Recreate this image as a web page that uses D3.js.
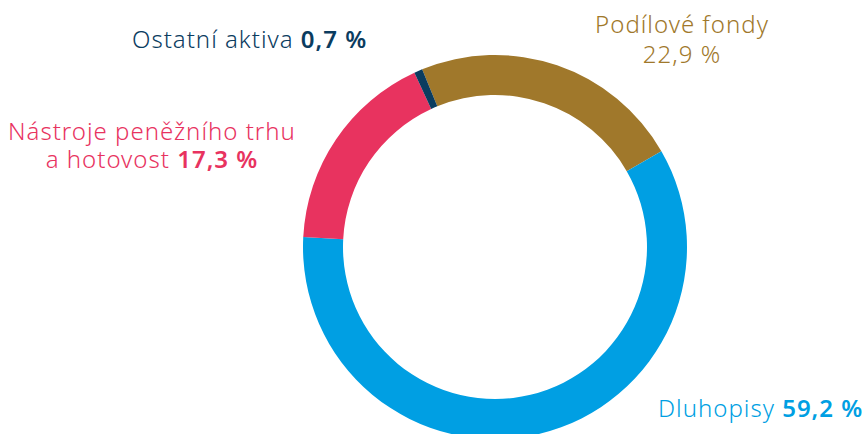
<!DOCTYPE html>
<html>
<head>
<meta charset="utf-8">
<script src="https://cdn.jsdelivr.net/npm/d3@7"></script>
<style>
  body { margin: 0; background: #fff; }
  svg text { font-family: "Noto Sans", "Open Sans", sans-serif; font-weight: 300; letter-spacing: 1px; }
  .val { font-weight: 600; }
</style>
</head>
<body>
<svg width="868" height="434"></svg>
<script>
// Data
const categories = ['Podílové fondy', 'Dluhopisy', 'Nástroje peněžního trhu a hotovost', 'Ostatní aktiva'];
const shares = [22.9, 59.2, 17.3, 0.7];
const shareLabels = ['22,9 %', '59,2 %', '17,3 %', '0,7 %'];
const colors = ['#a0782b', '#009fe3', '#e8335f', '#0b3c5f'];

const w = 868, h = 434;
const cx = 495, cy = 247;
const outerR = 192, innerR = 152;

const svg = d3.select('svg')
  .attr('width', w)
  .attr('height', h);

const pie = d3.pie()
  .sort(null)
  .value(d => d)
  .startAngle(-22.3 * Math.PI / 180)
  .endAngle(-22.3 * Math.PI / 180 + 2 * Math.PI);

const arc = d3.arc()
  .innerRadius(innerR)
  .outerRadius(outerR);

svg.append('g')
  .attr('transform', `translate(${cx},${cy})`)
  .selectAll('path')
  .data(pie(shares))
  .enter()
  .append('path')
  .attr('d', arc)
  .attr('fill', (d, i) => colors[i]);

// Labels
const fs = 24;

// Podílové fondy - two lines, centred
svg.append('text')
  .attr('x', 682).attr('y', 33)
  .attr('text-anchor', 'middle')
  .attr('font-size', fs)
  .attr('fill', colors[0])
  .text(categories[0]);
svg.append('text')
  .attr('x', 682).attr('y', 63)
  .attr('text-anchor', 'middle')
  .attr('font-size', fs)
  .attr('fill', colors[0])
  .text(shareLabels[0]);

// Dluhopisy
const lab1 = svg.append('text')
  .attr('x', 658).attr('y', 417)
  .attr('font-size', fs)
  .attr('fill', colors[1]);
lab1.append('tspan').text('Dluhopisy ');
lab1.append('tspan').attr('class', 'val').text(shareLabels[1]);

// Nástroje peněžního trhu a hotovost
svg.append('text')
  .attr('x', 152).attr('y', 140)
  .attr('text-anchor', 'middle')
  .attr('font-size', fs)
  .attr('fill', colors[2])
  .text('Nástroje peněžního trhu');
const lab2 = svg.append('text')
  .attr('x', 152).attr('y', 168)
  .attr('text-anchor', 'middle')
  .attr('font-size', fs)
  .attr('fill', colors[2]);
lab2.append('tspan').text('a hotovost ');
lab2.append('tspan').attr('class', 'val').text(shareLabels[2]);

// Ostatní aktiva
const lab3 = svg.append('text')
  .attr('x', 132).attr('y', 48)
  .attr('font-size', fs)
  .attr('fill', colors[3]);
lab3.append('tspan').text(categories[3] + ' ');
lab3.append('tspan').attr('class', 'val').text(shareLabels[3]);
</script>
</body>
</html>
